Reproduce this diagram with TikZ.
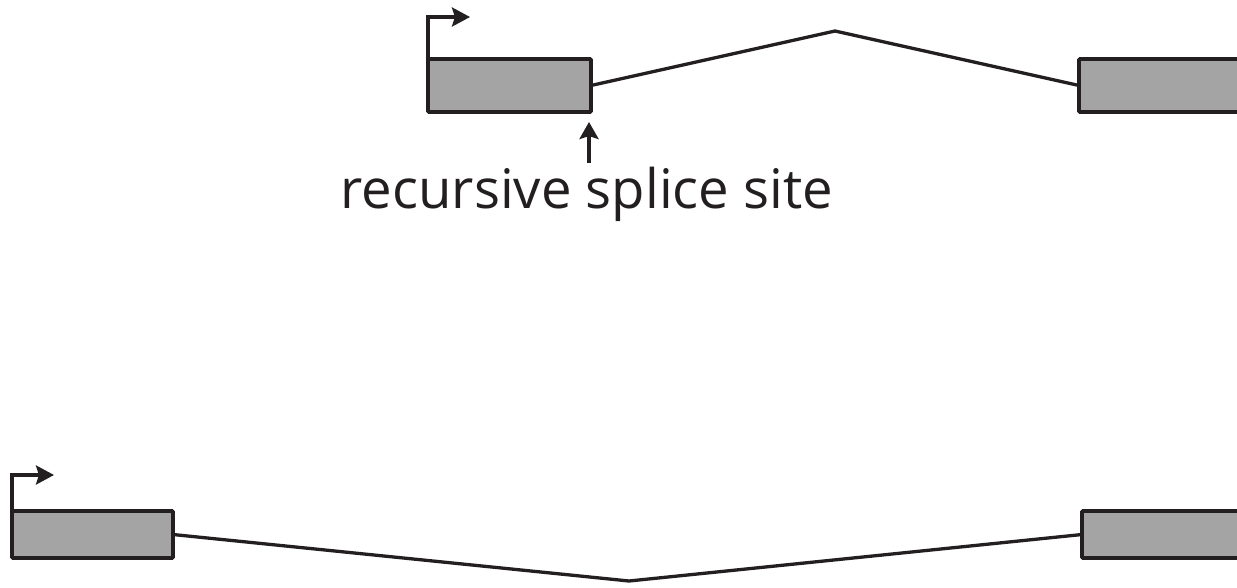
\documentclass[tikz,border=0pt]{standalone}
\usepackage{fontspec}
\setmainfont{Open Sans}
\usetikzlibrary{arrows.meta}
\definecolor{ink}{HTML}{231F20}
\definecolor{exonfill}{HTML}{A4A4A4}
\tikzset{
  exon/.style={draw=ink, fill=exonfill, line width=3.6pt, rectangle, rounded corners=1pt,
    inner sep=0pt, outer sep=0pt, anchor=north west},
  intron/.style={draw=ink, line width=3.3pt, line join=miter},
  tss/.style={draw=ink, line width=3.3pt, -{Stealth[length=18pt,width=19pt,inset=3pt]}},
  sitearrow/.style={draw=ink, line width=3.3pt, -{Stealth[length=17pt,width=19pt,inset=3pt]}},
}
\begin{document}
\begin{tikzpicture}[x=1pt,y=-1pt]
  \clip (0,0) rectangle (1237,587);
  \fill[white] (0,0) rectangle (1237,587);

  % upper transcript: first exon, recursive site, downstream exon
  \node[exon, minimum width=163pt, minimum height=53pt] (e1) at (428,59) {};
  \node[exon, minimum width=190pt, minimum height=53pt] (e2) at (1079,59) {};
  \coordinate (apexA) at (835,31);
  \draw[intron] (e1.east) -- (apexA) -- (e2.west);

  \coordinate (tssA) at (428,17);
  \coordinate (tssAend) at (470,17);
  \draw[tss] (e1.north west) -- (tssA) -- (tssAend);

  \node[font=\fontsize{54.5}{60}\selectfont, text=ink, inner sep=0pt, anchor=base] (lbl) at (587,208) {recursive splice site};
  \coordinate (siteTip) at (589,122);
  \coordinate (siteBase) at (589,163);
  \draw[sitearrow] (siteBase) -- (siteTip);

  % lower transcript: spliced exons with the long intron
  \node[exon, minimum width=161pt, minimum height=47pt] (f1) at (12,511) {};
  \node[exon, minimum width=190pt, minimum height=47pt] (f2) at (1082,511) {};
  \coordinate (apexB) at (629,581);
  \draw[intron] (f1.east) -- (apexB) -- (f2.west);

  \coordinate (tssB) at (12,475);
  \coordinate (tssBend) at (54,475);
  \draw[tss] (f1.north west) -- (tssB) -- (tssBend);
\end{tikzpicture}
\end{document}
